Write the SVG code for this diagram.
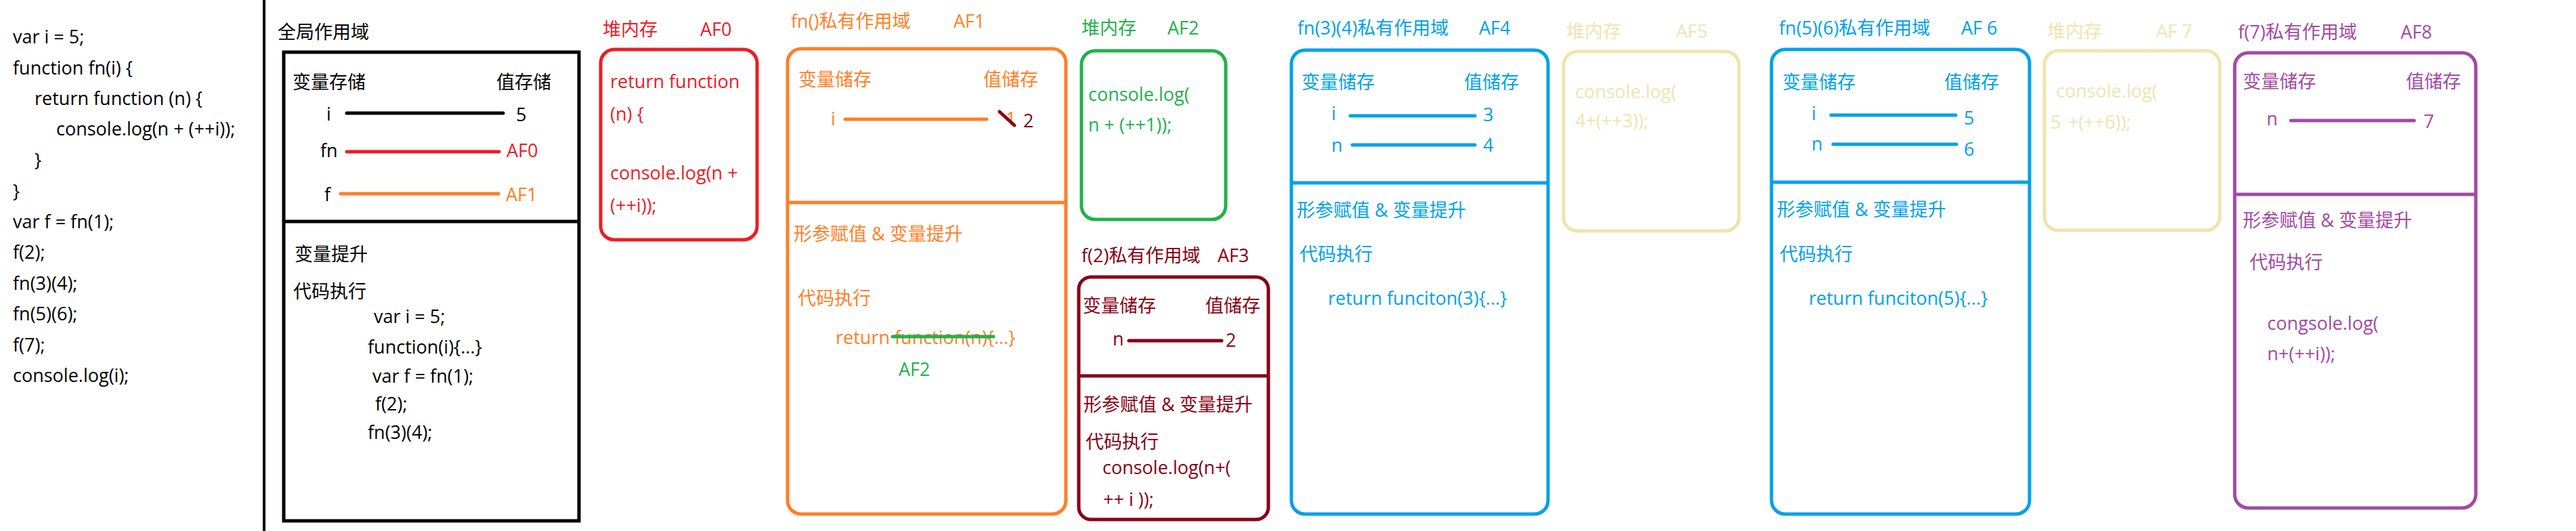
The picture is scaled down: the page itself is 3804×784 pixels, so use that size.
<svg xmlns="http://www.w3.org/2000/svg" width="3804" height="784" viewBox="0 0 3804 784">
<style>
text{font-family:"Open Sans","Noto Sans CJK SC",sans-serif;font-size:27px}
.k{fill:#000}.r{fill:#ED1C24}.o{fill:#FF7F27}.g{fill:#22B14C}.d{fill:#880015}.b{fill:#00A2E8}.p{fill:#EFE4B0}.v{fill:#A349A4}
.box{fill:none;stroke-width:5}
.ln{stroke-width:5;stroke-linecap:round;fill:none}
</style>
<rect width="3804" height="784" fill="#fff"/>
<g id="source-code">
<text class="k" x="19" y="64">var i = 5;</text>
<text class="k" x="19" y="110">function fn(i) {</text>
<text class="k" x="51" y="155">return function (n) {</text>
<text class="k" x="83" y="200">console.log(n + (++i));</text>
<text class="k" x="51" y="246">}</text>
<text class="k" x="19" y="292">}</text>
<text class="k" x="19" y="337">var f = fn(1);</text>
<text class="k" x="19" y="382">f(2);</text>
<text class="k" x="19" y="428">fn(3)(4);</text>
<text class="k" x="19" y="473">fn(5)(6);</text>
<text class="k" x="19" y="519">f(7);</text>
<text class="k" x="19" y="564">console.log(i);</text>
</g>
<g id="separator"><line x1="390" y1="0" x2="390" y2="784" stroke="#000" stroke-width="4"/></g>
<g id="global-scope">
<text class="k" x="410" y="57">全局作用域</text>
<rect class="box" x="419" y="77" width="436" height="692" stroke="#000"/>
<line x1="419" y1="327" x2="855" y2="327" stroke="#000" stroke-width="5"/>
<text class="k" x="432" y="131">变量存储</text>
<text class="k" x="733" y="131">值存储</text>
<text class="k" x="482" y="178">i</text>
<text class="k" x="762" y="179">5</text>
<text class="k" x="473" y="232">fn</text>
<text class="r" x="748" y="232">AF0</text>
<text class="k" x="479" y="297">f</text>
<text class="o" x="747" y="297">AF1</text>
<text class="k" x="435" y="385">变量提升</text>
<text class="k" x="433" y="440">代码执行</text>
<text class="k" x="552" y="477">var i = 5;</text>
<text class="k" x="543" y="522">function(i){...}</text>
<text class="k" x="550" y="565">var f = fn(1);</text>
<text class="k" x="554" y="606">f(2);</text>
<text class="k" x="543" y="648">fn(3)(4);</text>
</g>
<g id="heap-AF0">
<text class="r" x="890" y="53">堆内存</text>
<text class="r" x="1034" y="53">AF0</text>
<rect class="box" x="887" y="73" width="231" height="281" rx="20" stroke="#ED1C24"/>
<text class="r" x="901" y="130">return function</text>
<text class="r" x="901" y="178">(n) {</text>
<text class="r" x="901" y="265">console.log(n +</text>
<text class="r" x="901" y="313">(++i));</text>
</g>
<g id="scope-AF1">
<text class="o" x="1168" y="41">fn()私有作用域</text>
<text class="o" x="1408" y="41">AF1</text>
<rect class="box" x="1163" y="72" width="411" height="687" rx="20" stroke="#FF7F27"/>
<line x1="1163" y1="299" x2="1574" y2="299" stroke="#FF7F27" stroke-width="5"/>
<text class="o" x="1179" y="127">变量储存</text>
<text class="o" x="1452" y="127">值储存</text>
<text class="o" x="1227" y="185">i</text>
<text class="o" x="1485" y="185">1</text>
<line class="ln" x1="1476" y1="165" x2="1498" y2="185" stroke="#880015"/>
<text class="d" x="1511" y="188">2</text>
<text class="o" x="1172" y="355">形参赋值 &amp; 变量提升</text>
<text class="o" x="1178" y="450">代码执行</text>
<text class="o" x="1234" y="508">return function(n){...}</text>
<line class="ln" x1="1318" y1="497" x2="1467" y2="497" stroke="#22B14C" stroke-width="4"/>
<text class="g" x="1327" y="555">AF2</text>
</g>
<g id="heap-AF2">
<text class="g" x="1597" y="51">堆内存</text>
<text class="g" x="1724" y="51">AF2</text>
<rect class="box" x="1597" y="75" width="213" height="249" rx="20" stroke="#22B14C"/>
<text class="g" x="1607" y="149">console.log(</text>
<text class="g" x="1607" y="194">n + (++1));</text>
</g>
<g id="scope-AF3">
<text class="d" x="1597" y="387">f(2)私有作用域</text>
<text class="d" x="1798" y="387">AF3</text>
<rect class="box" x="1593" y="409" width="280" height="358" rx="18" stroke="#880015"/>
<line x1="1593" y1="555" x2="1873" y2="555" stroke="#880015" stroke-width="5"/>
<text class="d" x="1599" y="461">变量储存</text>
<text class="d" x="1780" y="461">值储存</text>
<text class="d" x="1643" y="510">n</text>
<text class="d" x="1810" y="512">2</text>
<text class="d" x="1600" y="607">形参赋值 &amp; 变量提升</text>
<text class="d" x="1603" y="662">代码执行</text>
<text class="d" x="1628" y="700">console.log(n+(</text>
<text class="d" x="1629" y="747">++ i ));</text>
</g>
<g id="scope-AF4">
<text class="b" x="1916" y="51">fn(3)(4)私有作用域</text>
<text class="b" x="2184" y="51">AF4</text>
<rect class="box" x="1907" y="74" width="379" height="685" rx="20" stroke="#00A2E8"/>
<line x1="1907" y1="270" x2="2286" y2="270" stroke="#00A2E8" stroke-width="5"/>
<text class="b" x="1922" y="131">变量储存</text>
<text class="b" x="2162" y="131">值储存</text>
<text class="b" x="1966" y="177">i</text>
<text class="b" x="2190" y="179">3</text>
<text class="b" x="1966" y="224">n</text>
<text class="b" x="2190" y="224">4</text>
<text class="b" x="1915" y="320">形参赋值 &amp; 变量提升</text>
<text class="b" x="1919" y="385">代码执行</text>
<text class="b" x="1961" y="450">return funciton(3){...}</text>
</g>
<g id="heap-AF5">
<text class="p" x="2313" y="56">堆内存</text>
<text class="p" x="2475" y="56">AF5</text>
<rect class="box" x="2309" y="76" width="259" height="265" rx="20" stroke="#EFE4B0"/>
<text class="p" x="2326" y="145">console.log(</text>
<text class="p" x="2326" y="188">4+(++3));</text>
</g>
<g id="scope-AF6">
<text class="b" x="2627" y="51">fn(5)(6)私有作用域</text>
<text class="b" x="2896" y="51">AF 6</text>
<rect class="box" x="2616" y="73" width="381" height="686" rx="20" stroke="#00A2E8"/>
<line x1="2616" y1="269" x2="2997" y2="269" stroke="#00A2E8" stroke-width="5"/>
<text class="b" x="2632" y="131">变量储存</text>
<text class="b" x="2871" y="131">值储存</text>
<text class="b" x="2675" y="177">i</text>
<text class="b" x="2900" y="184">5</text>
<text class="b" x="2675" y="222">n</text>
<text class="b" x="2900" y="230">6</text>
<text class="b" x="2624" y="319">形参赋值 &amp; 变量提升</text>
<text class="b" x="2628" y="385">代码执行</text>
<text class="b" x="2671" y="450">return funciton(5){...}</text>
</g>
<g id="heap-AF7">
<text class="p" x="3023" y="56">堆内存</text>
<text class="p" x="3184" y="56">AF 7</text>
<rect class="box" x="3019" y="75" width="259" height="265" rx="20" stroke="#EFE4B0"/>
<text class="p" x="3036" y="144">console.log(</text>
<text class="p" x="3028" y="190">5</text>
<text class="p" x="3054" y="190">+(++6));</text>
</g>
<g id="scope-AF8">
<text class="v" x="3305" y="57">f(7)私有作用域</text>
<text class="v" x="3545" y="57">AF8</text>
<rect class="box" x="3300" y="78" width="356" height="672" rx="20" stroke="#A349A4"/>
<line x1="3300" y1="287" x2="3656" y2="287" stroke="#A349A4" stroke-width="5"/>
<text class="v" x="3312" y="130">变量储存</text>
<text class="v" x="3553" y="130">值储存</text>
<text class="v" x="3347" y="185">n</text>
<text class="v" x="3579" y="189">7</text>
<text class="v" x="3312" y="335">形参赋值 &amp; 变量提升</text>
<text class="v" x="3322" y="397">代码执行</text>
<text class="v" x="3348" y="487">congsole.log(</text>
<text class="v" x="3348" y="532">n+(++i));</text>
</g>
<g id="connectors">
<line class="ln" x1="512" y1="167" x2="743" y2="167" stroke="#000"/>
<line class="ln" x1="512" y1="224" x2="737" y2="224" stroke="#ED1C24"/>
<line class="ln" x1="503" y1="286" x2="736" y2="286" stroke="#FF7F27"/>
<line class="ln" x1="1248" y1="176" x2="1457" y2="176" stroke="#FF7F27"/>
<line class="ln" x1="1667" y1="503" x2="1804" y2="503" stroke="#880015"/>
<line class="ln" x1="1994" y1="171" x2="2178" y2="171" stroke="#00A2E8"/>
<line class="ln" x1="1997" y1="214" x2="2178" y2="214" stroke="#00A2E8"/>
<line class="ln" x1="2704" y1="170" x2="2888" y2="170" stroke="#00A2E8"/>
<line class="ln" x1="2707" y1="213" x2="2889" y2="213" stroke="#00A2E8"/>
<line class="ln" x1="3383" y1="178" x2="3565" y2="178" stroke="#A349A4"/>
</g>
</svg>
